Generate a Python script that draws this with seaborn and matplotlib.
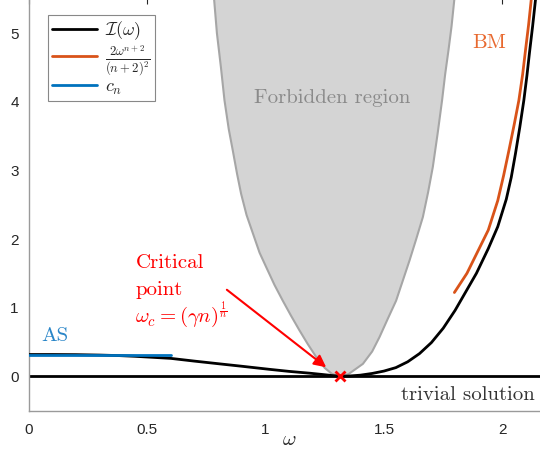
import matplotlib
matplotlib.use('Agg')
import matplotlib.pyplot as plt
import seaborn as sns

# black curve I(omega)
omega_I = [0.0, 0.1, 0.2, 0.3, 0.384, 0.45, 0.52, 0.6, 0.7, 0.806, 0.9, 1.017,
           1.1, 1.186, 1.24, 1.28, 1.314,
           1.35, 1.40, 1.45, 1.50, 1.55, 1.60, 1.65, 1.70, 1.75, 1.80, 1.84,
           1.89, 1.94, 1.98, 2.016, 2.037, 2.055, 2.073, 2.09, 2.103, 2.114,
           2.127, 2.139, 2.155]
I_vals = [0.316, 0.316, 0.314, 0.308, 0.30, 0.29, 0.276, 0.26, 0.22, 0.18, 0.145, 0.10,
          0.07, 0.044, 0.025, 0.01, 0.0,
          0.002, 0.015, 0.04, 0.075, 0.125, 0.21, 0.33, 0.49, 0.70, 0.96, 1.20,
          1.50, 1.86, 2.18, 2.58, 2.90, 3.25, 3.63, 4.02, 4.38, 4.72,
          5.10, 5.48, 6.0]

# BM asymptote (orange)
omega_bm = [1.797, 1.85, 1.90, 1.94, 1.98, 2.005, 2.027, 2.05, 2.069, 2.085,
            2.097, 2.11, 2.121, 2.13]
bm_vals = [1.22, 1.50, 1.85, 2.13, 2.56, 2.93, 3.29, 3.68, 4.02, 4.40,
           4.75, 5.12, 5.48, 5.80]

# AS value c_n (blue)
omega_cn = [0.0, 0.6]
cn_vals = [0.316, 0.316]

# forbidden region boundary
forb_left_w = [0.783, 0.795, 0.812, 0.827, 0.845, 0.862, 0.88, 0.897, 0.92, 0.947,
               0.975, 1.003, 1.038, 1.073, 1.108, 1.143, 1.178, 1.214, 1.25, 1.28, 1.314]
forb_left_y = [5.5, 5.0, 4.5, 4.02, 3.6, 3.29, 2.95, 2.66, 2.35, 2.08,
               1.8, 1.59, 1.33, 1.10, 0.88, 0.67, 0.47, 0.28, 0.12, 0.035, 0.0]
forb_right_w = [1.314, 1.35, 1.411, 1.45, 1.481, 1.515, 1.551, 1.58, 1.608, 1.636,
                1.664, 1.686, 1.706, 1.726, 1.745, 1.758, 1.772, 1.785, 1.797]
forb_right_y = [0.0, 0.03, 0.18, 0.36, 0.57, 0.83, 1.10, 1.40, 1.69, 2.0,
                2.32, 2.68, 3.05, 3.53, 4.02, 4.4, 4.75, 5.1, 5.5]

omega_c = 1.314
x_ticks = [0, 0.5, 1, 1.5, 2]
x_tick_labels = ['0', '0.5', '1', '1.5', '2']
y_ticks = [0, 1, 2, 3, 4, 5]

sns.set_theme(style='white')
plt.rcParams['font.family'] = ['Liberation Sans', 'DejaVu Sans']
plt.rcParams['mathtext.fontset'] = 'cm'
plt.rcParams['axes.unicode_minus'] = False

orange = '#D95319'
blue = '#0072BD'
serif = ['cmr10', 'DejaVu Serif']

fig = plt.figure(figsize=(5.4, 4.65), dpi=100)
ax = fig.add_axes([28.5 / 540, 54.5 / 465, 521.4 / 540, 411.6 / 465])

# forbidden region
poly_w = forb_left_w + forb_right_w[1:]
poly_y = forb_left_y + forb_right_y[1:]
ax.fill(poly_w, poly_y, facecolor='#d4d4d4', edgecolor='#a6a6a6', linewidth=1.5, zorder=1)

# trivial solution
ax.axhline(0, color='black', linewidth=2, zorder=2)

sns.lineplot(x=omega_I, y=I_vals, sort=False, estimator=None, color='black',
             linewidth=2, ax=ax, label=r'$\mathcal{I}(\omega)$', zorder=3)
sns.lineplot(x=omega_bm, y=bm_vals, sort=False, estimator=None, color=orange,
             linewidth=2, ax=ax, label=r'$\frac{2\omega^{n+2}}{(n+2)^2}$', zorder=3)
sns.lineplot(x=omega_cn, y=cn_vals, sort=False, estimator=None, color=blue,
             linewidth=2, ax=ax, label=r'$c_n$', zorder=3)

ax.plot([omega_c], [0], marker='x', color='red', markersize=7, mew=2, zorder=5)

ax.annotate('', xy=(1.256, 0.13), xytext=(0.837, 1.26),
            arrowprops=dict(arrowstyle='-|>', color='red', lw=1.5, mutation_scale=18,
                            shrinkA=0, shrinkB=0), zorder=6)

ax.text(0.451, 1.57, 'Critical', color='red', fontsize=15, family=serif, va='baseline')
ax.text(0.451, 1.18, 'point', color='red', fontsize=15, family=serif, va='baseline')
ax.text(0.451, 0.79, r'$\omega_c = (\gamma n)^{\frac{1}{n}}$', color='red', fontsize=15, va='baseline')

ax.text(1.283, 4.06, 'Forbidden region', color='#8a8a8a', fontsize=15, family=serif,
        ha='center', va='center')
ax.text(1.945, 4.85, 'BM', color='#E8692F', fontsize=15, family=serif, ha='center', va='center')
ax.text(0.11, 0.59, 'AS', color='#2A86C8', fontsize=15, family=serif, ha='center', va='center')
ax.text(2.135, -0.28, 'trivial solution', color='#333333', fontsize=15, family=serif,
        ha='right', va='center')

ax.set_xlim(0, 2.2)
ax.set_ylim(-0.5, 5.5)
ax.set_xticks(x_ticks)
ax.set_xticklabels(x_tick_labels)
ax.set_yticks(y_ticks)
ax.set_xlabel(r'$\omega$', fontsize=15, labelpad=-5)
ax.set_ylabel('')

for sp in ax.spines.values():
    sp.set_color('#9a9a9a')
    sp.set_linewidth(1)
ax.tick_params(direction='in', length=3.6, width=0.8, color='#262626',
               labelsize=11, labelcolor='#262626', top=True, right=True)
ax.tick_params(axis='x', pad=9)
ax.tick_params(axis='y', pad=7)

leg = ax.legend(loc='upper left', bbox_to_anchor=(0.037, 0.961), fontsize=13,
                frameon=True, fancybox=False, handlelength=2.5, borderpad=0.25,
                labelspacing=0.05, handletextpad=0.4, borderaxespad=0)
leg.get_frame().set_edgecolor('#888888')
leg.get_frame().set_linewidth(0.8)
leg.get_frame().set_alpha(1)

fig.savefig('out.png', dpi=100)
